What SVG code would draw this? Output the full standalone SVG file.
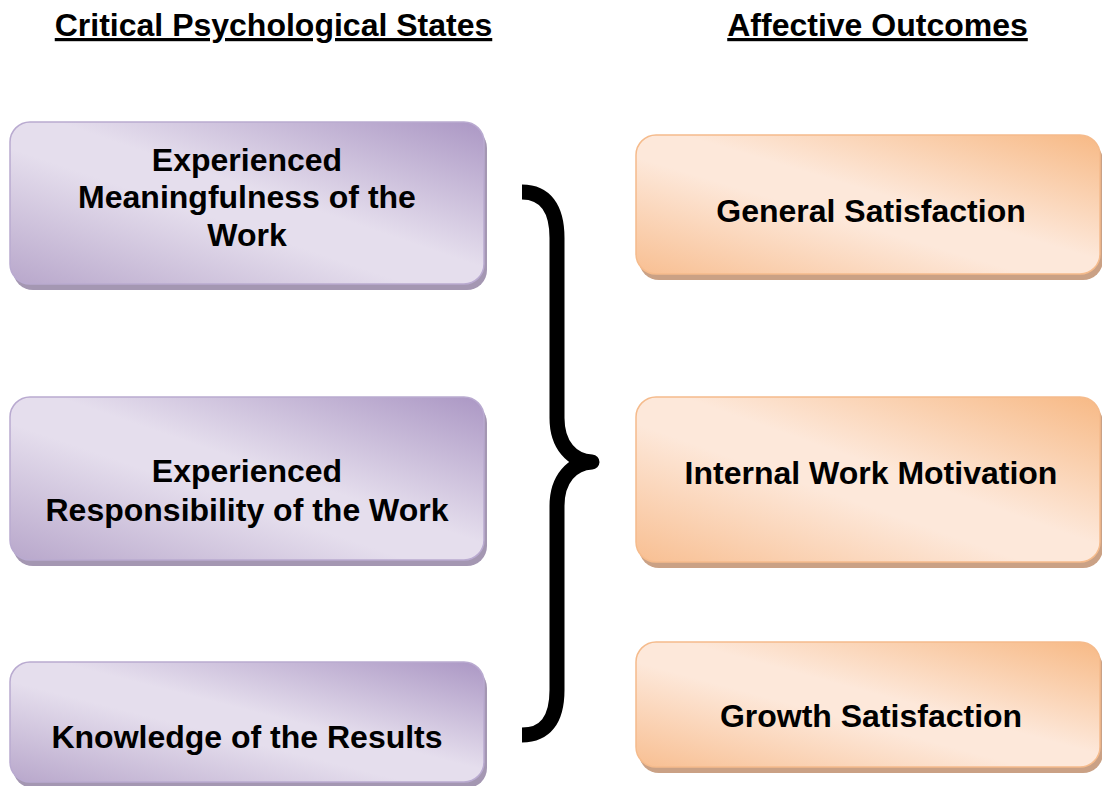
<svg xmlns="http://www.w3.org/2000/svg" width="1102" height="786" viewBox="0 0 1102 786">
<defs>
<linearGradient id="gp" x1="1" y1="0" x2="0" y2="1">
<stop offset="0" stop-color="#ab97c4"/>
<stop offset="0.45" stop-color="#e5deed"/>
<stop offset="0.58" stop-color="#e5deed"/>
<stop offset="1" stop-color="#b8a7cb"/>
</linearGradient>
<linearGradient id="go" x1="1" y1="0" x2="0" y2="1">
<stop offset="0" stop-color="#f7b985"/>
<stop offset="0.45" stop-color="#fde8da"/>
<stop offset="0.58" stop-color="#fde8da"/>
<stop offset="1" stop-color="#f8bf92"/>
</linearGradient>
</defs>
<style>
text{font-family:"Liberation Sans",Arial,sans-serif;font-weight:bold;fill:#000;text-anchor:middle}
.title{font-size:32px;text-decoration:underline}
.lbl{font-size:32px}
.ps{fill:#a497b2}
.pb{fill:url(#gp);stroke:#b9aad0;stroke-width:1.5}
.os{fill:#caa185}
.ob{fill:url(#go);stroke:#f5bb8c;stroke-width:1.5}
.brace{fill:none;stroke:#000;stroke-width:15;stroke-linejoin:round;stroke-linecap:butt}
</style>
<g id="title-left"><text class="title" x="273.5" y="36">Critical Psychological States</text></g>
<g id="title-right"><text class="title" x="877.5" y="36">Affective Outcomes</text></g>

<g id="p1">
<rect class="ps" x="13" y="128" width="474" height="162" rx="20"/>
<rect class="pb" x="10" y="122" width="474" height="162" rx="20"/>
<text class="lbl" x="247" y="171">Experienced</text>
<text class="lbl" x="247" y="208">Meaningfulness of the</text>
<text class="lbl" x="247" y="246">Work</text>
</g>
<g id="p2">
<rect class="ps" x="13" y="403" width="474" height="163" rx="20"/>
<rect class="pb" x="10" y="397" width="474" height="163" rx="20"/>
<text class="lbl" x="247" y="482">Experienced</text>
<text class="lbl" x="247" y="521">Responsibility of the Work</text>
</g>
<g id="p3">
<rect class="ps" x="13" y="668" width="474" height="120" rx="20"/>
<rect class="pb" x="10" y="662" width="474" height="120" rx="20"/>
<text class="lbl" x="247" y="748">Knowledge of the Results</text>
</g>

<g id="o1">
<rect class="os" x="639" y="141" width="464" height="139" rx="20"/>
<rect class="ob" x="636" y="135" width="464" height="139" rx="20"/>
<text class="lbl" x="871" y="222">General Satisfaction</text>
</g>
<g id="o2">
<rect class="os" x="639" y="403" width="464" height="165" rx="20"/>
<rect class="ob" x="636" y="397" width="464" height="165" rx="20"/>
<text class="lbl" x="871" y="484">Internal Work Motivation</text>
</g>
<g id="o3">
<rect class="os" x="639" y="648" width="464" height="125" rx="20"/>
<rect class="ob" x="636" y="642" width="464" height="125" rx="20"/>
<text class="lbl" x="871" y="727">Growth Satisfaction</text>
</g>

<g id="connectors">
<path class="brace" d="M522,192 C545,192 557,208 557,238 L557,418 C557,445 572,461 592,462 C572,463 557,479 557,506 L557,690 C557,720 545,735 522,735"/>
</g>
</svg>
